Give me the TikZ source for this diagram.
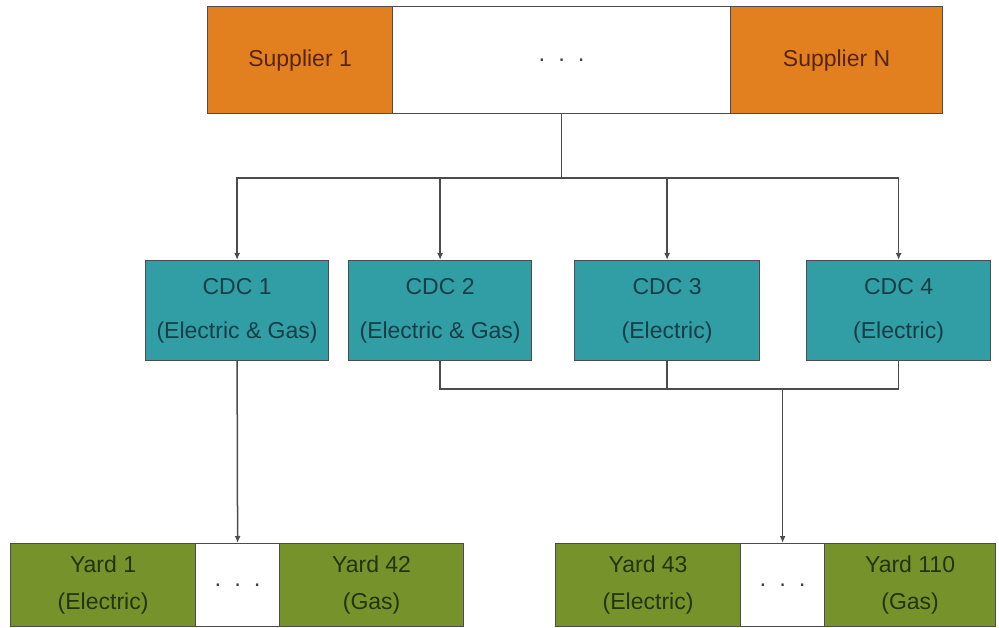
\documentclass[tikz,border=0pt]{standalone}
\usepackage{fontspec}
\setmainfont{Liberation Sans}
\usetikzlibrary{arrows.meta}
\definecolor{suporange}{RGB}{226,128,32}
\definecolor{suptext}{RGB}{88,36,8}
\definecolor{cdcteal}{RGB}{48,158,164}
\definecolor{cdctext}{RGB}{22,62,72}
\definecolor{yardgreen}{RGB}{118,146,42}
\definecolor{yardtext}{RGB}{34,52,12}

\begin{document}
\begin{tikzpicture}[x=1pt, y=-1pt,
    box/.style={draw=black!70, line width=1.2pt, anchor=north west,
      inner sep=0pt, align=center},
    supbox/.style={box, fill=suporange, text=suptext, minimum height=107,
      font=\fontsize{23}{26}\selectfont},
    cdcbox/.style={box, fill=cdcteal, text=cdctext, minimum height=100,
      font=\fontsize{23}{44}\selectfont},
    yardbox/.style={box, fill=yardgreen, text=yardtext, minimum height=83,
      font=\fontsize{23}{37}\selectfont},
    dotbox/.style={box, fill=white, text=black!75,
      font=\fontsize{24}{26}\selectfont},
    link/.style={draw=black!70, line width=1.5pt},
    arr/.style={link, -{Latex[length=7pt, width=6pt]}}]
    \useasboundingbox (0,0) rectangle (999,628);

    \node[supbox, minimum width=185] (s1)  at (207,6) {Supplier 1};
    \node[dotbox, minimum width=338, minimum height=107] (mid) at (392,6)
      {.\hspace{13pt}.\hspace{13pt}.};
    \node[supbox, minimum width=212] (sN)  at (730,6) {Supplier N};

    \node[cdcbox, minimum width=183] (c1) at (145,260) {CDC 1\\(Electric \& Gas)};
    \node[cdcbox, minimum width=183] (c2) at (348,260) {CDC 2\\(Electric \& Gas)};
    \node[cdcbox, minimum width=185] (c3) at (574,260) {CDC 3\\(Electric)};
    \node[cdcbox, minimum width=184] (c4) at (806,260) {CDC 4\\(Electric)};

    \node[yardbox, minimum width=185] (y1)   at (10,543)  {Yard 1\\(Electric)};
    \node[dotbox, minimum width=84, minimum height=83] (d1) at (195,543)
      {.\hspace{13pt}.\hspace{13pt}.};
    \node[yardbox, minimum width=184] (y42)  at (279,543) {Yard 42\\(Gas)};
    \node[yardbox, minimum width=185] (y43)  at (555,543) {Yard 43\\(Electric)};
    \node[dotbox, minimum width=84, minimum height=83] (d2) at (740,543)
      {.\hspace{13pt}.\hspace{13pt}.};
    \node[yardbox, minimum width=171] (y110) at (824,543) {Yard 110\\(Gas)};

    \coordinate (j1) at (mid.south |- 0,178);
    \coordinate (j2) at (d2.north |- 0,389);

    \path[link] (mid.south) -- (j1);
    \path[arr] (j1) -| (c1.north);
    \path[arr] (j1) -| (c2.north);
    \path[arr] (j1) -| (c3.north);
    \path[arr] (j1) -| (c4.north);

    \path[arr] (c1.south) -- (d1.north);
    \path[link] (c2.south) |- (c4.south |- j2) -- (c4.south);
    \path[link] (c3.south) -- (c3.south |- j2);
    \path[arr] (j2) -- (d2.north);
\end{tikzpicture}
\end{document}
